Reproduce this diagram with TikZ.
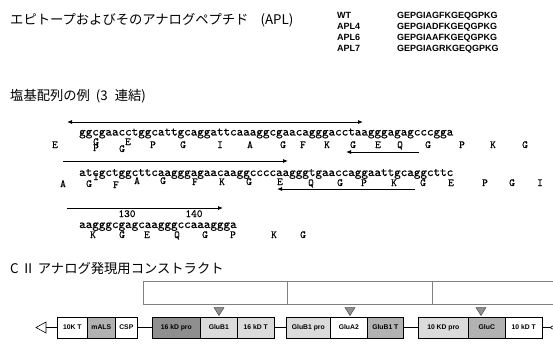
\documentclass[tikz,border=0pt]{standalone}
\usepackage{fontspec}
\setmainfont{Liberation Sans}
\newfontfamily\jp{Noto Sans CJK JP}
\newfontfamily\seqf[Extension=.otf,FakeBold=0.6]{lmmono10-regular}
\usetikzlibrary{arrows.meta}
\definecolor{lgray}{gray}{0.86}
\definecolor{mgray}{gray}{0.70}
\definecolor{dgray}{gray}{0.56}
\begin{document}
\begin{tikzpicture}[x=1pt,y=-1pt,
 jptitle/.style={anchor=west, inner sep=0, font=\jp\fontsize{13.3}{15}\selectfont},
 apl/.style={anchor=base west, inner sep=0, font=\bfseries\fontsize{9}{10}\selectfont},
 seq/.style={anchor=base west, inner sep=0, font=\seqf\fontsize{12.5}{14}\selectfont},
 aa/.style={anchor=base, inner sep=0, font=\seqf\fontsize{10.8}{12}\selectfont},
 sarrow/.style={line width=0.8pt, -{Latex[length=5pt,width=4pt]}},
 gbox/.style={draw, line width=0.6pt, anchor=west, minimum height=21pt, inner sep=0, font=\bfseries\fontsize{6.8}{7}\selectfont},
 segbox/.style={draw=gray, line width=0.6pt, anchor=north west, minimum height=23pt, inner sep=0},
 sitetri/.style={fill=dgray, draw=black!70, line width=0.5pt}
]
\useasboundingbox (0,0) rectangle (553,343);
\clip (0,0) rectangle (553,343);

% ---- titles
\node[jptitle] (t1) at (10,20) {エピトープおよびそのアナログペプチド\hspace{12pt}(APL)};
\node[jptitle] (t2) at (10,96) {塩基配列の例\hspace{6pt}(3\hspace{7pt}連結)};
\node[jptitle] (t3) at (10,268) {C Ⅱ アナログ発現用コンストラクト};

% ---- APL table
\node[apl] (l1) at (337,18.5) {WT};
\node[apl] (l2) at (337,29.5) {APL4};
\node[apl] (l3) at (337,40.5) {APL6};
\node[apl] (l4) at (337,51.5) {APL7};
\node[apl] (s1) at (397,18.5) {GEPGIAGFKGEQGPKG};
\node[apl] (s2) at (397,29.5) {GEPGIADFKGEQGPKG};
\node[apl] (s3) at (397,40.5) {GEPGIAAFKGEQGPKG};
\node[apl] (s4) at (397,51.5) {GEPGIAGRKGEQGPKG};

% ---- sequences
\node[seq] (q1) at (79,135.5) {ggcgaacctggcattgcaggattcaaaggcgaacagggacctaagggagagcccgga};
\node[seq] (q2) at (79,176) {atcgctggcttcaagggagaacaaggccccaagggtgaaccaggaattgcaggcttc};
\node[seq] (q3) at (79,228) {aagggcgagcaagggccaaaggga};
\node[aa] (n130) at (127,217) {130};
\node[aa] (n140) at (194,217) {140};

\foreach \x/\y/\l [count=\i] in {55/148/E, 96/145/G, 96/151/P, 122/152/G, 128/145/E, 153/148/P, 183/148/G, 220/148/I, 250/148/A, 283/148/G, 303/148/F, 327/148/K, 353/148/G, 378/148/E, 400/148/Q, 428/148/G, 462/148/P, 493/148/K, 525/148/G}
  \node[aa] (ra\i) at (\x,\y) {\l};
\foreach \x/\y/\l [count=\i] in {63/187/A, 89/187/G, 96/180/I, 116/188/F, 137/184/A, 163/184/G, 195/185/F, 222/185/K, 249/185/G, 280/185/E, 311/186/Q, 340/186/G, 364/186/P, 394/186/K, 423/186/G, 451/186/E, 485/186/P, 512/186/G, 540/186/I}
  \node[aa] (rb\i) at (\x,\y) {\l};
\foreach \x/\y/\l [count=\i] in {93/238/K, 122/238/G, 147/238/E, 177/238/Q, 205/238/G, 233/238/P, 274/238/K, 303/238/G}
  \node[aa] (rc\i) at (\x,\y) {\l};

% ---- primer arrows
\coordinate (a1s) at (67,122); \coordinate (a1e) at (363,122);
\draw[line width=0.8pt, {Latex[length=5pt,width=4pt]}-{Latex[length=5pt,width=4pt]}] (a1s) -- (a1e);
\coordinate (a2s) at (419,152); \coordinate (a2e) at (346,152);
\draw[sarrow] (a2s) -- (a2e);
\coordinate (a3s) at (63,161); \coordinate (a3e) at (288,161);
\draw[sarrow] (a3s) -- (a3e);
\coordinate (a4s) at (415,189); \coordinate (a4e) at (277,189);
\draw[sarrow] (a4s) -- (a4e);
\coordinate (a5s) at (67,208); \coordinate (a5e) at (223,208);
\draw[sarrow] (a5s) -- (a5e);

% ---- construct: upper open segments
\node[segbox, minimum width=144pt] (g1) at (143,281) {};
\node[segbox, minimum width=145pt] (g2) at (287,281) {};
\node[segbox, minimum width=140pt] (g3) at (432,281) {};

% ---- gene boxes
\node[gbox, minimum width=30pt] (b1) at (57,327.5) {10K T};
\node[gbox, minimum width=28pt, fill=mgray] (b2) at (87,327.5) {mALS};
\node[gbox, minimum width=22pt] (b3) at (115,327.5) {CSP};
\node[gbox, minimum width=48pt, fill=dgray] (b4) at (152,327.5) {16 kD pro};
\node[gbox, minimum width=37pt, fill=lgray] (b5) at (200,327.5) {GluB1};
\node[gbox, minimum width=37pt, fill=lgray] (b6) at (237,327.5) {16 kD T};
\node[gbox, minimum width=44pt, fill=lgray] (b7) at (286,327.5) {GluB1 pro};
\node[gbox, minimum width=37pt] (b8) at (330,327.5) {GluA2};
\node[gbox, minimum width=36pt, fill=mgray] (b9) at (367,327.5) {GluB1 T};
\node[gbox, minimum width=50pt, fill=lgray] (b10) at (418,327.5) {10 KD pro};
\node[gbox, minimum width=37pt, fill=mgray] (b11) at (468,327.5) {GluC};
\node[gbox, minimum width=37pt] (b12) at (505,327.5) {10 kD T};

% connectors
\coordinate (lt) at (46,327.5);
\draw[line width=0.6pt] (lt) -- (46,322) -- (36,327.5) -- (46,333) -- cycle;
\draw[line width=0.6pt] (lt) -- (b1.west);
\draw[line width=0.6pt] (b3.east) -- (b4.west);
\draw[line width=0.6pt] (b6.east) -- (b7.west);
\draw[line width=0.6pt] (b9.east) -- (b10.west);
\coordinate (rt) at (550,327.5);
\draw[line width=0.6pt] (b12.east) -- (rt);
\draw[line width=0.6pt] (rt) -- (560,322) (rt) -- (560,333);

% site markers
\foreach \x [count=\i] in {219,350,481}
  \draw[sitetri] (\x-5,307.5) -- (\x+5,307.5) -- (\x,315.5) -- cycle;
\end{tikzpicture}
\end{document}
